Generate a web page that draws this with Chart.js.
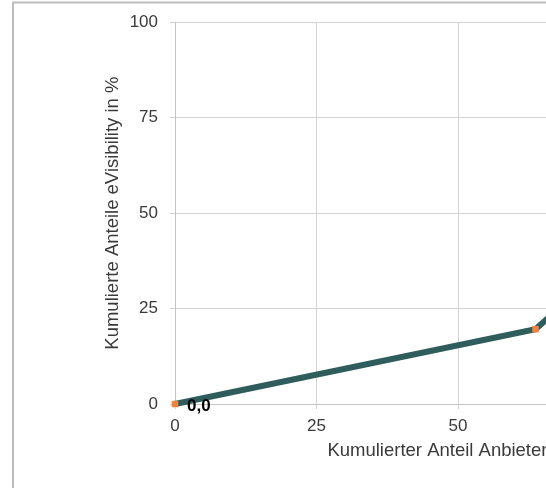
<!DOCTYPE html>
<html>
<head>
<meta charset="utf-8">
<script src="https://cdn.jsdelivr.net/npm/chart.js@4"></script>
<style>
html,body{margin:0;padding:0;overflow:hidden;background:#fff;}
#c{position:absolute;left:0;top:0;}
</style>
</head>
<body>
<canvas id="c" width="800" height="520"></canvas>
<script>
// Data (Lorenz-style cumulative curve)
const xValues = [0, 63.7, 85, 100];      // Kumulierter Anteil Anbieter in %
const yValues = [0, 19.6, 48, 100];      // Kumulierte Anteile eVisibility in %
const xTicks = [0, 25, 50, 75, 100];
const yTicks = [0, 25, 50, 75, 100];
const xTitle = 'Kumulierter Anteil Anbieter in %';
const yTitle = 'Kumulierte Anteile eVisibility in %';

const points = xValues.map((x, i) => ({x: x, y: yValues[i]}));
const fmt = v => v.toFixed(1).replace('.', ',');

const FONT = "'Liberation Sans', Arial, sans-serif";

const frame = {
  id: 'frame',
  beforeDraw(chart) {
    const ctx = chart.ctx;
    ctx.save();
    ctx.fillStyle = '#fff';
    ctx.fillRect(0, 0, chart.width, chart.height);
    ctx.strokeStyle = '#bdbdbd';
    ctx.lineWidth = 2;
    ctx.strokeRect(13, 2.5, 775, 510);
    ctx.restore();
  }
};

const dataLabels = {
  id: 'dataLabels',
  afterDatasetsDraw(chart) {
    const ctx = chart.ctx;
    const meta = chart.getDatasetMeta(0);
    ctx.save();
    ctx.font = 'bold 17px ' + FONT;
    ctx.fillStyle = '#000';
    ctx.textAlign = 'left';
    ctx.textBaseline = 'alphabetic';
    meta.data.forEach((el, i) => {
      ctx.fillText(fmt(yValues[i]), el.x + 12, el.y + 7);
    });
    ctx.restore();
  }
};

new Chart(document.getElementById('c'), {
  type: 'line',
  data: {
    datasets: [{
      data: points,
      borderColor: '#2e5d5b',
      borderWidth: 6,
      tension: 0,
      pointStyle: 'rect',
      pointRadius: 4.6,
      pointBackgroundColor: '#f5823a',
      pointBorderColor: '#f5823a',
      pointBorderWidth: 0,
      clip: false
    }]
  },
  options: {
    responsive: false,
    animation: false,
    devicePixelRatio: 1,
    layout: {padding: {left: 0, top: 21, right: 59, bottom: 0}},
    plugins: {legend: {display: false}, tooltip: {enabled: false}},
    scales: {
      x: {
        type: 'linear',
        min: 0, max: 100,
        afterBuildTicks: s => { s.ticks = xTicks.map(v => ({value: v})); },
        afterFit: s => { s.height = 116; },
        grid: {color: '#d3d3d3', lineWidth: 1, tickLength: 5, drawTicks: true},
        border: {color: '#c4c4c4', width: 1},
        ticks: {color: '#3a3a3a', font: {size: 17, family: FONT}, padding: 7, maxRotation: 0},
        title: {display: true, text: xTitle, color: '#3a3a3a', font: {size: 18.5, family: FONT}, padding: {top: 0, bottom: 58}}
      },
      y: {
        type: 'linear',
        min: 0, max: 100,
        afterBuildTicks: s => { s.ticks = yTicks.map(v => ({value: v})); },
        afterFit: s => { s.width = 175; },
        grid: {color: '#d3d3d3', lineWidth: 1, tickLength: 5, drawTicks: true},
        border: {color: '#c4c4c4', width: 1},
        ticks: {color: '#3a3a3a', font: {size: 17, family: FONT}, padding: 12},
        title: {display: true, text: yTitle, color: '#3a3a3a', font: {size: 18.5, family: FONT}, padding: {top: 102, bottom: 0}}
      }
    }
  },
  plugins: [frame, dataLabels]
});
</script>
</body>
</html>
